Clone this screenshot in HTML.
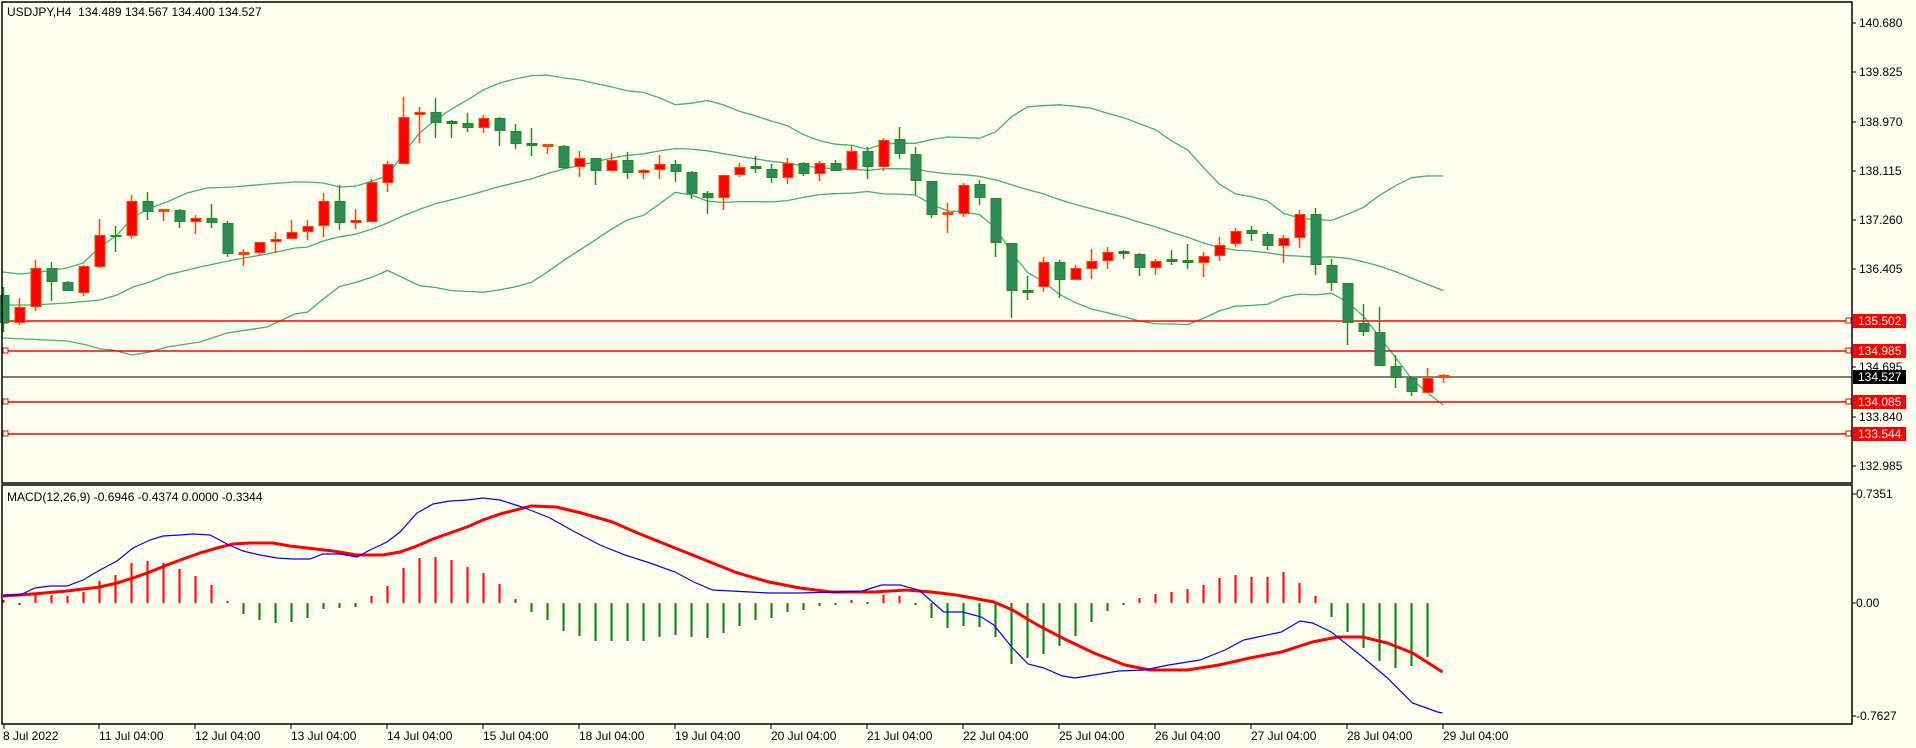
<!DOCTYPE html>
<html><head><meta charset="utf-8">
<style>
html,body{margin:0;padding:0;background:#FFFFF0;}
svg{display:block;}
text{font-family:"Liberation Sans",sans-serif;font-size:12px;fill:#000;}
</style></head>
<body>
<svg id="s" width="1916" height="748" xmlns="http://www.w3.org/2000/svg">
<rect x="0" y="0" width="1916" height="748" fill="#FFFFF0"/>
<g id="bands"></g>
<g id="lines">
<line x1="2" y1="321" x2="1852" y2="321" stroke="#FF0000" stroke-width="1.5"/>
<line x1="2" y1="351" x2="1852" y2="351" stroke="#FF0000" stroke-width="1.5"/>
<line x1="2" y1="402" x2="1852" y2="402" stroke="#FF0000" stroke-width="1.5"/>
<line x1="2" y1="434" x2="1852" y2="434" stroke="#FF0000" stroke-width="1.5"/>
<line x1="2" y1="377" x2="1852" y2="377" stroke="#000" stroke-width="1"/>
<rect x="3" y="318" width="5" height="5" fill="#fff" stroke="#f00"/>
<rect x="3" y="348" width="5" height="5" fill="#fff" stroke="#f00"/>
<rect x="3" y="399" width="5" height="5" fill="#fff" stroke="#f00"/>
<rect x="3" y="431" width="5" height="5" fill="#fff" stroke="#f00"/>
<rect x="1846" y="318" width="5" height="5" fill="#fff" stroke="#f00"/>
<rect x="1846" y="348" width="5" height="5" fill="#fff" stroke="#f00"/>
<rect x="1846" y="399" width="5" height="5" fill="#fff" stroke="#f00"/>
<rect x="1846" y="431" width="5" height="5" fill="#fff" stroke="#f00"/>
</g>
<g id="candles"></g>
<g id="macd"></g>
<rect x="2" y="2" width="1850" height="481" fill="none" stroke="#000" stroke-width="1.5"/>
<rect x="2" y="485" width="1850" height="239" fill="none" stroke="#000" stroke-width="1.5"/>
<text x="7" y="16">USDJPY,H4&#160; 134.489 134.567 134.400 134.527</text>
<text x="7" y="501">MACD(12,26,9) -0.6946 -0.4374 0.0000 -0.3344</text>
<g stroke="#000">
<line x1="1852" y1="23" x2="1856" y2="23"/><line x1="1852" y1="72" x2="1856" y2="72"/>
<line x1="1852" y1="122" x2="1856" y2="122"/><line x1="1852" y1="171" x2="1856" y2="171"/>
<line x1="1852" y1="220" x2="1856" y2="220"/><line x1="1852" y1="269" x2="1856" y2="269"/>
<line x1="1852" y1="367" x2="1856" y2="367"/><line x1="1852" y1="417" x2="1856" y2="417"/>
<line x1="1852" y1="466" x2="1856" y2="466"/>
<line x1="1852" y1="494" x2="1856" y2="494"/><line x1="1852" y1="603" x2="1856" y2="603"/>
<line x1="1852" y1="716" x2="1856" y2="716"/>
</g>
<text x="1859" y="27">140.680</text>
<text x="1859" y="76">139.825</text>
<text x="1859" y="126">138.970</text>
<text x="1859" y="175">138.115</text>
<text x="1859" y="224">137.260</text>
<text x="1859" y="273">136.405</text>
<text x="1859" y="371">134.695</text>
<text x="1859" y="421">133.840</text>
<text x="1859" y="470">132.985</text>
<text x="1856" y="498">0.7351</text>
<text x="1856" y="607">0.00</text>
<text x="1856" y="720">-0.7627</text>
<rect x="1853" y="314" width="53" height="14" fill="#FF0000"/><text x="1858" y="325" style="fill:#fff">135.502</text>
<rect x="1853" y="344" width="53" height="14" fill="#FF0000"/><text x="1858" y="355" style="fill:#fff">134.985</text>
<rect x="1853" y="370" width="53" height="14" fill="#000"/><text x="1858" y="381" style="fill:#fff">134.527</text>
<rect x="1853" y="395" width="53" height="14" fill="#FF0000"/><text x="1858" y="406" style="fill:#fff">134.085</text>
<rect x="1853" y="427" width="53" height="14" fill="#FF0000"/><text x="1858" y="438" style="fill:#fff">133.544</text>
<g stroke="#000">
<line x1="4" y1="724" x2="4" y2="729"/><line x1="99" y1="724" x2="99" y2="729"/>
<line x1="195" y1="724" x2="195" y2="729"/><line x1="291" y1="724" x2="291" y2="729"/>
<line x1="387" y1="724" x2="387" y2="729"/><line x1="483" y1="724" x2="483" y2="729"/>
<line x1="579" y1="724" x2="579" y2="729"/><line x1="675" y1="724" x2="675" y2="729"/>
<line x1="771" y1="724" x2="771" y2="729"/><line x1="867" y1="724" x2="867" y2="729"/>
<line x1="963" y1="724" x2="963" y2="729"/><line x1="1059" y1="724" x2="1059" y2="729"/>
<line x1="1155" y1="724" x2="1155" y2="729"/><line x1="1251" y1="724" x2="1251" y2="729"/>
<line x1="1347" y1="724" x2="1347" y2="729"/><line x1="1443" y1="724" x2="1443" y2="729"/>
</g>
<text x="3" y="740">8 Jul 2022</text>
<text x="99" y="740">11 Jul 04:00</text>
<text x="195" y="740">12 Jul 04:00</text>
<text x="291" y="740">13 Jul 04:00</text>
<text x="387" y="740">14 Jul 04:00</text>
<text x="483" y="740">15 Jul 04:00</text>
<text x="579" y="740">18 Jul 04:00</text>
<text x="675" y="740">19 Jul 04:00</text>
<text x="771" y="740">20 Jul 04:00</text>
<text x="867" y="740">21 Jul 04:00</text>
<text x="963" y="740">22 Jul 04:00</text>
<text x="1059" y="740">25 Jul 04:00</text>
<text x="1155" y="740">26 Jul 04:00</text>
<text x="1251" y="740">27 Jul 04:00</text>
<text x="1347" y="740">28 Jul 04:00</text>
<text x="1443" y="740">29 Jul 04:00</text>
</svg>
<script>
var NS="http://www.w3.org/2000/svg";
function el(p,t,a){var e=document.createElementNS(NS,t);for(var k in a)e.setAttribute(k,a[k]);p.appendChild(e);return e;}
var C=[
['g',295,323,287,332],['r',307,323,298,325],['r',268,307,260,311],['g',268,282,262,301],['g',282,291,281,291],
['r',266,293,265,296],['r',235,267,219,268],['g',236,237,226,252],['r',201,236,195,239],['g',201,212,192,220],
['r',210,212,209,221],['g',210,222,209,228],['r',218,222,215,234],['g',218,223,204,228],['g',223,254,221,257],
['r',253,255,249,266],['r',242,253,242,255],['r',239,242,232,253],['r',232,239,220,239],['r',226,232,220,240],
['r',201,226,193,237],['g',201,223,185,230],['r',220,223,209,229],['r',182,222,179,222],['r',164,183,161,192],
['r',117,164,97,164],['r',112,115,107,143],['g',112,123,98,138],['g',122,124,120,138],['g',123,128,113,132],
['r',118,128,115,133],['g',118,131,117,146],['g',131,144,124,149],['g',144,146,128,156],['r',145,147,144,154],
['g',146,168,145,169],['r',158,167,151,177],['g',158,171,158,185],['r',160,171,153,171],['g',160,173,152,179],
['r',170,173,169,179],['r',164,170,155,179],['g',164,172,160,182],['g',172,194,171,199],['g',193,198,191,214],
['r',175,198,175,210],['r',167,175,163,177],['g',167,169,156,173],['g',169,178,164,183],['r',163,178,158,184],
['g',163,174,162,176],['r',163,174,161,181],['g',163,171,160,171],['r',151,170,146,170],['g',151,167,147,179],
['r',140,167,138,171],['g',139,154,127,159],['g',154,181,147,195],['g',181,215,181,218],['r',213,215,203,233],
['r',185,214,183,217],['g',184,198,180,205],['g',198,243,198,257],['g',243,291,243,318],['g',291,293,276,300],
['r',262,287,257,292],['g',262,280,260,298],['r',268,280,265,280],['r',261,269,249,279],['r',252,261,247,269],
['g',252,254,250,259],['g',254,268,253,276],['r',261,268,259,275],['g',260,262,250,265],['g',261,263,244,269],
['r',256,263,252,277],['r',245,256,237,261],['r',231,244,228,247],['g',230,234,226,241],['g',234,246,232,250],
['r',238,246,235,263],['r',214,238,210,248],['g',214,265,208,275],['g',265,283,259,291],['g',283,323,283,345],
['g',323,332,304,336],['g',332,366,307,366],['g',366,378,355,388],['g',378,392,378,396],['r',378,393,368,393],
['r',376,378,374,383]];
function X(i){return 3.5+16*i;}
var bg=document.getElementById('bands');
var cl=C.map(function(c){return c[0]=='r'?c[1]:c[2];});
var up=[[3,272],[20,274],[40,272],[67,268],[83,263],[100,247],[117,235],[133,217],[150,208],[167,202],[187,193],[207,188],[233,187],[267,184],[295,182]];
var md=[[3,305],[33,305],[67,303],[100,300],[117,295],[133,287],[150,282],[167,275],[200,267],[233,260],[267,254],[295,248]];
var lo=[[3,338],[67,341],[87,345],[100,349],[113,350],[132,355],[150,352],[167,347],[200,342],[227,333],[267,327],[295,314]];
for(var i=19;i<C.length;i++){var s=0;for(var j=i-19;j<=i;j++)s+=cl[j];var m=s/20;var v=0;for(j=i-19;j<=i;j++)v+=(cl[j]-m)*(cl[j]-m);var sd=Math.sqrt(v/20);
up.push([X(i),m-2*sd]);md.push([X(i),m]);lo.push([X(i),m+2*sd]);}
[up,md,lo].forEach(function(a){el(bg,'polyline',{points:a.map(function(p){return p[0]+','+p[1].toFixed(1);}).join(' '),fill:'none',stroke:'#3CB371','stroke-width':1.3});});
var cg=document.getElementById('candles');
C.forEach(function(c,i){var x=X(i);var br=c[0]=='r'?'#FF4500':'#228B22';var fi=c[0]=='r'?'#FF0000':'#2E8B57';
el(cg,'line',{x1:x,y1:c[3],x2:x,y2:c[4],stroke:br,'stroke-width':1.5});
var h=c[2]-c[1];
if(h<3){el(cg,'rect',{x:x-5,y:c[1]-1,width:11,height:Math.max(2,h+1),fill:br});}
else{el(cg,'rect',{x:x-5,y:c[1],width:11,height:h,fill:br});el(cg,'rect',{x:x-4,y:c[1]+1,width:9,height:h-2,fill:fi});}
});
var H=[600,605,594,595,596,592,581,575,563,561,563,569,576,585,601,614,620,623,622,618,609,608,607,596,586,568,558,557,560,567,573,584,599,
612,620,631,636,641,641,641,641,637,635,637,638,633,626,620,618,612,610,606,605,600,602,595,596,604,
618,628,626,627,637,664,658,654,646,636,622,611,605,
598,594,592,589,585,578,575,577,577,572,583,596,
617,632,648,661,668,666,657];
var Z=603;var mg=document.getElementById('macd');
H.forEach(function(y,i){var x=X(i)-1;var col=y<Z?'#FF0000':'#008000';var t=Math.min(y,Z),b=Math.max(y,Z);if(b-t<2){b=t+2;}
el(mg,'rect',{x:x,y:t,width:2,height:b-t,fill:col});});
var blue=[[3,595],[20,595],[35,588],[50,586],[67,586],[83,580],[100,570],[117,561],[133,548],[150,540],[163,536],[180,535],[193,534],[210,535],[227,544],[243,551],[260,555],[277,558],[293,559],[310,559],[323,554],[340,554],[357,557],[370,550],[387,542],[400,532],[417,513],[433,504],[450,501],[467,500],[483,498],[500,500]];
[[0,500],[40,508],[80,518],[120,532],[160,545],[200,555],[240,563],[280,572],[310,582],[340,590],[400,592],[430,593],[480,593],[540,592],[580,591],[610,585],[640,585],[670,590],[710,612],[740,612],[770,617],[790,625],[820,648],[845,664],[870,668],[900,676],[920,678],[950,675],[990,671],[1030,670],[1070,665],[1120,660],[1160,650],[1190,640],[1250,632],[1280,621],[1300,623],[1330,632],[1380,657],[1420,678],[1460,703],[1500,712],[1508,713]].forEach(function(p){blue.push([500+p[0]/1.6,p[1]]);});
var red=[[3,596],[33,594],[67,591],[100,587],[117,583],[133,578],[150,572],[167,565],[183,559],[200,553],[217,548],[233,544],[250,543],[273,543],[290,546],[307,548],[333,551],[357,555],[383,555],[400,552],[417,546],[433,539],[450,533],[467,527],[483,520],[500,514]];
[[50,506],[90,507],[130,513],[180,522],[220,533],[260,543],[300,553],[340,563],[380,573],[430,582],[480,588],[530,592],[600,592],[650,590],[690,592],[730,595],[790,602],[820,610],[860,625],[900,638],[950,653],[1000,665],[1040,670],[1100,670],[1150,665],[1200,658],[1250,652],[1300,642],[1340,637],[1380,637],[1420,643],[1460,653],[1508,672]].forEach(function(p){red.push([500+p[0]/1.6,p[1]]);});
el(mg,'polyline',{points:red.map(function(p){return p[0].toFixed(1)+','+p[1];}).join(' '),fill:'none',stroke:'#FF0000','stroke-width':3});
el(mg,'polyline',{points:blue.map(function(p){return p[0].toFixed(1)+','+p[1];}).join(' '),fill:'none',stroke:'#0000FF','stroke-width':1.2});
</script>
</body></html>
